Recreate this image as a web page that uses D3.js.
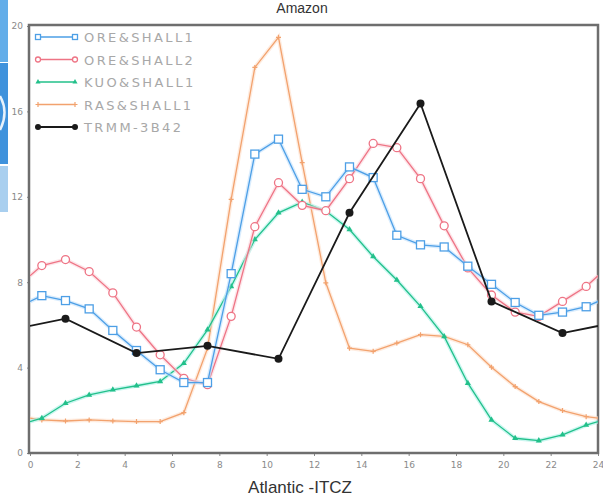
<!DOCTYPE html>
<html>
<head>
<meta charset="utf-8">
<script src="https://cdn.jsdelivr.net/npm/d3@7/dist/d3.min.js"></script>
<style>
  html, body { margin: 0; padding: 0; background: #fff; }
  svg { display: block; }
</style>
</head>
<body>
<div id="chart"></div>
<script>
// Diurnal cycle of precipitation (mm/day) along the Amazon / Atlantic-ITCZ transect
const hours = [0.5, 1.5, 2.5, 3.5, 4.5, 5.5, 6.5, 7.5, 8.5, 9.5, 10.5, 11.5,
               12.5, 13.5, 14.5, 15.5, 16.5, 17.5, 18.5, 19.5, 20.5, 21.5, 22.5, 23.5];
const trmmHours = [1.5, 4.5, 7.5, 10.5, 13.5, 16.5, 19.5, 22.5];

const oreShall1 = [7.37, 7.14, 6.75, 5.74, 4.8, 3.9, 3.3, 3.3, 8.4, 14.0, 14.7, 12.35,
                   12.0, 13.4, 12.9, 10.2, 9.75, 9.65, 8.75, 7.9, 7.05, 6.45, 6.6, 6.85];
const oreShall2 = [8.78, 9.06, 8.5, 7.5, 5.9, 4.6, 3.5, 3.2, 6.4, 10.6, 12.66, 11.6,
                   11.35, 12.85, 14.5, 14.3, 12.85, 10.64, 8.67, 7.4, 6.6, 6.4, 7.1, 7.8];
const kuoShall1 = [1.63, 2.33, 2.72, 2.96, 3.15, 3.35, 4.2, 5.77, 7.8, 10.0, 11.25, 11.75,
                   11.33, 10.47, 9.2, 8.1, 6.87, 5.46, 3.27, 1.55, 0.69, 0.58, 0.85, 1.31];
const rasShall1 = [1.55, 1.5, 1.55, 1.5, 1.47, 1.47, 1.89, 4.9, 11.88, 18.06, 19.47, 13.6,
                   7.97, 4.91, 4.76, 5.15, 5.54, 5.46, 5.07, 4.02, 3.11, 2.41, 1.99, 1.7];
const trmm3b42 = [6.29, 4.68, 5.02, 4.41, 11.25, 16.37, 7.1, 5.62];

// value where each periodic curve meets the 0 h / 24 h edges
const edgeValues = [7.1, 8.3, 1.47, 1.63, 5.95];

const seriesNames = ["ORE&SHALL1", "ORE&SHALL2", "KUO&SHALL1", "RAS&SHALL1", "TRMM-3B42"];
const xTicks = [0, 2, 4, 6, 8, 10, 12, 14, 16, 18, 20, 22, 24];
const yTicks = [0, 4, 8, 12, 16, 20];

const W = 603, H = 501;
const plotLeft = 30, plotRight = 598, plotTop = 26, plotBottom = 453;

const svg = d3.select("#chart").append("svg").attr("width", W).attr("height", H);

// strip of a neighbouring slide element at the left edge
svg.append("rect").attr("x", 0).attr("y", 0).attr("width", 8).attr("height", 62).attr("fill", "#62ade9");
svg.append("rect").attr("x", 0).attr("y", 63).attr("width", 8).attr("height", 101).attr("fill", "#3f92dc");
svg.append("path").attr("d", "M0,96 Q9,112 0,130").attr("fill", "none").attr("stroke", "#e8f2fb").attr("stroke-width", 2.5);
svg.append("rect").attr("x", 0).attr("y", 166).attr("width", 8).attr("height", 46).attr("fill", "#a9cfef");

const x = d3.scaleLinear().domain([0, 24]).range([plotLeft, plotRight]);
const y = d3.scaleLinear().domain([0, 20]).range([plotBottom, plotTop]);

svg.append("defs").append("clipPath").attr("id", "plotClip")
  .append("rect").attr("x", plotLeft).attr("y", plotTop - 4)
  .attr("width", plotRight - plotLeft).attr("height", plotBottom - plotTop + 4);

// axes
const xAxis = d3.axisBottom(x).tickValues(xTicks).tickSize(3).tickPadding(6).tickFormat(d3.format("d"));
const gx = svg.append("g").attr("transform", `translate(0,${plotBottom})`).call(xAxis);
const yAxis = d3.axisLeft(y).tickValues(yTicks).tickSize(3).tickPadding(4).tickFormat(d3.format("d"));
const gy = svg.append("g").attr("transform", `translate(${plotLeft},0)`).call(yAxis);
[gx, gy].forEach(g => {
  g.select(".domain").remove();
  g.selectAll(".tick line").attr("stroke", "#888");
  g.selectAll(".tick text").attr("fill", "#8a8a8a").attr("font-family", "DejaVu Sans, sans-serif").attr("font-size", 9);
});

// frame
svg.append("rect").attr("x", plotLeft - 1).attr("y", plotTop - 1)
  .attr("width", plotRight - plotLeft + 1).attr("height", plotBottom - plotTop + 1)
  .attr("fill", "none").attr("stroke", "#6e6e6e").attr("stroke-width", 2.5);

const colors = ["#4d9fe6", "#ee7485", "#22c08a", "#f2a26e", "#1a1a1a"];
const valueSets = [oreShall1, oreShall2, kuoShall1, rasShall1];

const line = d3.line().x(d => x(d[0])).y(d => y(d[1]));
const plot = svg.append("g").attr("clip-path", "url(#plotClip)");

function drawMarker(g, kind, cx, cy, color, size) {
  if (kind === "square") {
    g.append("rect").attr("x", cx - size / 2).attr("y", cy - size / 2).attr("width", size).attr("height", size)
      .attr("fill", "#fff").attr("stroke", color).attr("stroke-width", 1.3);
  } else if (kind === "circle") {
    g.append("circle").attr("cx", cx).attr("cy", cy).attr("r", size / 2)
      .attr("fill", "#fff").attr("stroke", color).attr("stroke-width", 1.3);
  } else if (kind === "triangle") {
    g.append("path").attr("d", d3.symbol(d3.symbolTriangle, size * size * 0.45)())
      .attr("transform", `translate(${cx},${cy})`).attr("fill", color);
  } else if (kind === "plus") {
    g.append("path").attr("d", `M${cx - size / 2},${cy}H${cx + size / 2}M${cx},${cy - size / 2}V${cy + size / 2}`)
      .attr("stroke", color).attr("stroke-width", 1.2);
  } else if (kind === "dot") {
    g.append("circle").attr("cx", cx).attr("cy", cy).attr("r", size / 2).attr("fill", color);
  }
}

const markerKinds = ["square", "circle", "triangle", "plus", "dot"];
const markerSizes = [8, 8, 6, 5, 8];
const glow = ["#bfe0fb", "#fbd3da", "#a8f0e6", "#fde0cc", "#cfcfcf"];

// draw order: RAS, KUO, ORE2, ORE1, TRMM
[3, 2, 1, 0].forEach(i => {
  const pts = [[0, edgeValues[i]]].concat(hours.map((h, k) => [h, valueSets[i][k]])).concat([[24, edgeValues[i]]]);
  plot.append("path").datum(pts).attr("d", line).attr("fill", "none")
    .attr("stroke", glow[i]).attr("stroke-width", 4).attr("stroke-opacity", 0.6);
  plot.append("path").datum(pts).attr("d", line).attr("fill", "none")
    .attr("stroke", colors[i]).attr("stroke-width", 1.3);
  hours.forEach((h, k) => drawMarker(plot, markerKinds[i], x(h), y(valueSets[i][k]), colors[i], markerSizes[i]));
});
{
  const pts = [[0, edgeValues[4]]].concat(trmmHours.map((h, k) => [h, trmm3b42[k]])).concat([[24, edgeValues[4]]]);
  plot.append("path").datum(pts).attr("d", line).attr("fill", "none")
    .attr("stroke", colors[4]).attr("stroke-width", 1.8);
  trmmHours.forEach((h, k) => drawMarker(plot, "dot", x(h), y(trmm3b42[k]), colors[4], 8));
}

// legend
const leg = svg.append("g");
seriesNames.forEach((name, i) => {
  const ly = 37 + i * 22.5;
  leg.append("line").attr("x1", 38).attr("x2", 75).attr("y1", ly).attr("y2", ly)
    .attr("stroke", colors[i]).attr("stroke-width", i === 4 ? 1.8 : 1.4);
  const s = i === 4 ? 6 : 5;
  drawMarker(leg, markerKinds[i], 38, ly, colors[i], s);
  drawMarker(leg, markerKinds[i], 75, ly, colors[i], s);
  leg.append("text").attr("x", 84).attr("y", ly + 5).text(name)
    .attr("font-family", "DejaVu Sans, sans-serif").attr("font-size", 13)
    .attr("letter-spacing", 2.4).attr("fill", "#a8a8a8");
});

// titles
svg.append("text").attr("x", 302).attr("y", 13).attr("text-anchor", "middle").text("Amazon")
  .attr("font-family", "Liberation Sans, Arial, sans-serif").attr("font-size", 14).attr("fill", "#333");
svg.append("text").attr("x", 300).attr("y", 493).attr("text-anchor", "middle").text("Atlantic -ITCZ")
  .attr("font-family", "Liberation Sans, Arial, sans-serif").attr("font-size", 17).attr("fill", "#333");
</script>
</body>
</html>
